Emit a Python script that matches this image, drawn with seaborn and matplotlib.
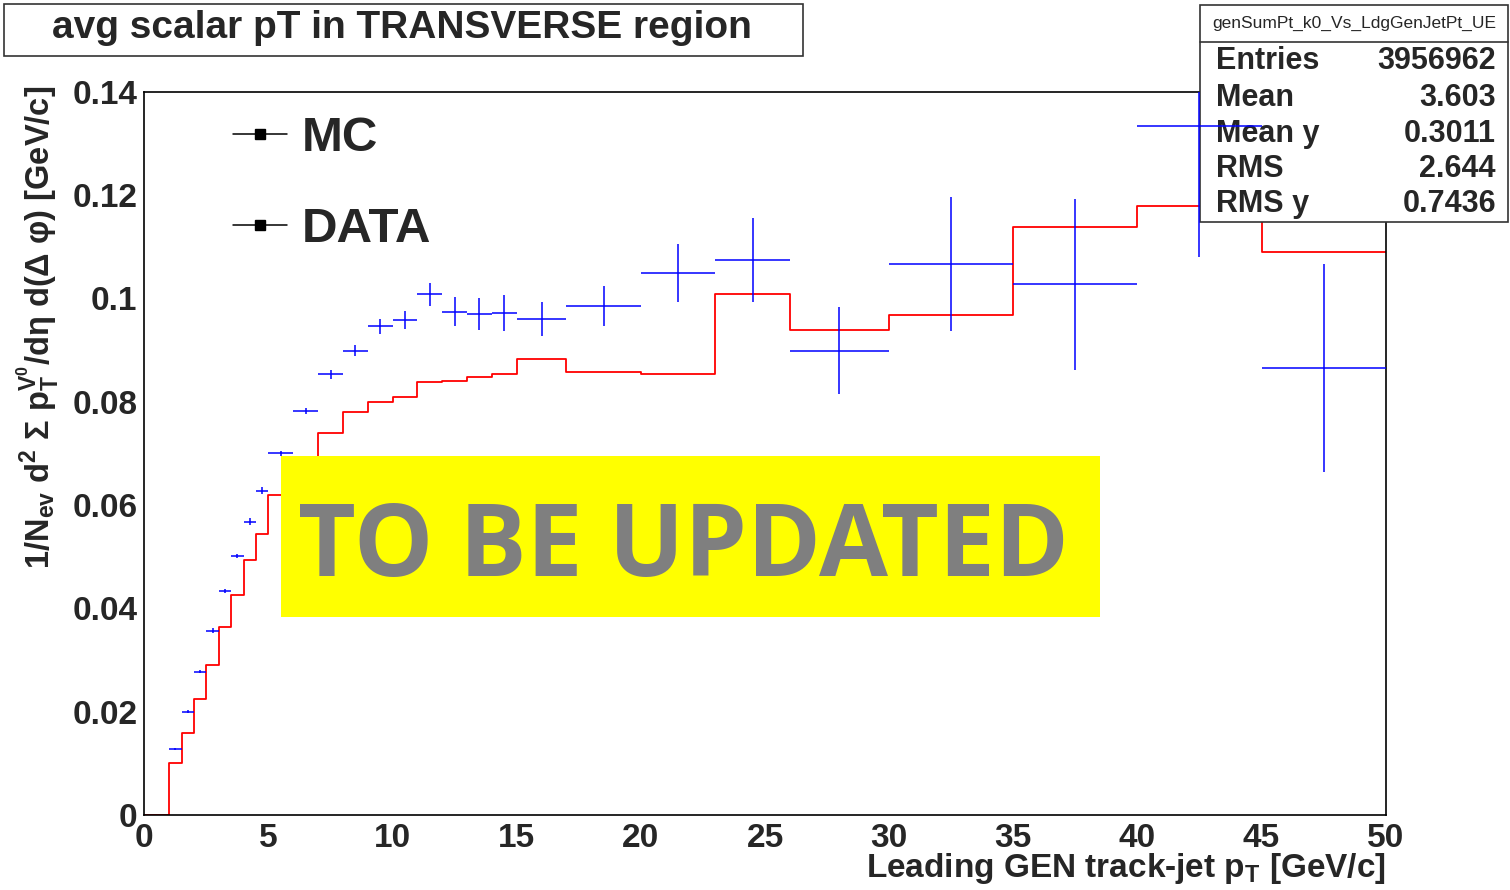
import numpy as np
import matplotlib
matplotlib.use("Agg")
import matplotlib.pyplot as plt
from matplotlib.patches import Rectangle
from matplotlib.lines import Line2D
from matplotlib.ticker import MultipleLocator, FixedLocator, FixedFormatter
import seaborn as sns

# ---------------- data ----------------
mc_edges = [0, 1, 1.5, 2, 2.5, 3, 3.5, 4, 4.5, 5, 6, 7, 8, 9, 10, 11, 12, 13,
            14, 15, 17, 20, 23, 26, 30, 35, 40, 45, 50]
mc_values = [0.0, 0.0100, 0.0158, 0.0225, 0.0291, 0.0364, 0.0425, 0.0494, 0.0543,
             0.0620, 0.0680, 0.0740, 0.0780, 0.0799, 0.0810, 0.0838, 0.0840, 0.0848,
             0.0854, 0.0882, 0.0857, 0.0854, 0.1008, 0.0938, 0.0968, 0.1138, 0.1178,
             0.1089]
data_edges = mc_edges[1:]
data_values = [0.0128, 0.0200, 0.0277, 0.0357, 0.0433, 0.0502, 0.0568, 0.0628,
               0.0700, 0.0782, 0.0853, 0.0899, 0.0946, 0.0958, 0.1008, 0.0974,
               0.0969, 0.0972, 0.0960, 0.0985, 0.1049, 0.1074, 0.0899, 0.1066,
               0.1027, 0.1334, 0.0865]
data_errors = [0.0002, 0.0003, 0.0003, 0.0004, 0.0004, 0.0004, 0.0006, 0.0006,
               0.0005, 0.0006, 0.0009, 0.0011, 0.0015, 0.0018, 0.0022, 0.0028,
               0.0031, 0.0035, 0.0032, 0.0039, 0.0057, 0.0082, 0.0085, 0.0130,
               0.0165, 0.0253, 0.0202]

x_ticks = [0, 5, 10, 15, 20, 25, 30, 35, 40, 45, 50]
x_tick_labels = ["0", "5", "10", "15", "20", "25", "30", "35", "40", "45", "50"]
y_ticks = [0.0, 0.02, 0.04, 0.06, 0.08, 0.10, 0.12, 0.14]
y_tick_labels = ["0", "0.02", "0.04", "0.06", "0.08", "0.1", "0.12", "0.14"]

title_text = "avg scalar pT in TRANSVERSE region"
x_label = "Leading GEN track-jet p$_{T}$ [GeV/c]"
y_label = "1/N$_{ev}$ d$^{2}$ Σ p$_{T}^{V^{0}}$/dη d(Δ φ) [GeV/c]"
legend_labels = ["MC", "DATA"]
stats_name = "genSumPt_k0_Vs_LdgGenJetPt_UE"
stats_labels = ["Entries", "Mean", "Mean y", "RMS", "RMS y"]
stats_values = ["3956962", "3.603", "0.3011", "2.644", "0.7436"]
stamp_text = "TO BE UPDATED"

# ---------------- style ----------------
sns.set_style("white")
plt.rcParams["font.family"] = ["Liberation Sans", "DejaVu Sans"]
plt.rcParams["mathtext.fontset"] = "custom"
plt.rcParams["mathtext.rm"] = "Liberation Sans:bold"
plt.rcParams["mathtext.bf"] = "Liberation Sans:bold"
plt.rcParams["mathtext.it"] = "Liberation Sans:bold"
plt.rcParams["mathtext.sf"] = "Liberation Sans:bold"
plt.rcParams["mathtext.default"] = "bf"

W, H = 1510, 890
fig = plt.figure(figsize=(W / 100, H / 100), dpi=100)
fig.patch.set_facecolor("white")

def fx(px):
    return px / W

def fy(py):
    return 1 - py / H

rect = [fx(144.3), fy(815), fx(1385.7) - fx(144.3), fy(91.7) - fy(815)]
ax = fig.add_axes(rect)
ax.set_zorder(0)

# MC histogram (red step)
edges_arr = np.array(mc_edges, dtype=float)
mc_centers = 0.5 * (edges_arr[:-1] + edges_arr[1:])
sns.histplot(x=mc_centers, weights=mc_values, bins=mc_edges, element="step",
             fill=False, color="#ff0000", linewidth=1.3, ax=ax)

ax.set_xlim(0, 50)
ax.set_ylim(0, 0.14)
ax.set_facecolor("white")
for s in ax.spines.values():
    s.set_color("black")
    s.set_linewidth(1.2)

ax.xaxis.set_major_locator(FixedLocator(x_ticks))
ax.xaxis.set_major_formatter(FixedFormatter(x_tick_labels))
ax.yaxis.set_major_locator(FixedLocator(y_ticks))
ax.yaxis.set_major_formatter(FixedFormatter(y_tick_labels))
ax.xaxis.set_minor_locator(MultipleLocator(1))
ax.yaxis.set_minor_locator(MultipleLocator(0.005))

ax.tick_params(axis="both", which="both", direction="in", top=False, right=False,
               color="black", width=1.1)
ax.tick_params(axis="y", which="major", length=27, pad=5)
ax.tick_params(axis="y", which="minor", length=13.5)
ax.tick_params(axis="x", which="major", length=15.5, pad=5.5)
ax.tick_params(axis="x", which="minor", length=8.5)
for lab in ax.get_xticklabels() + ax.get_yticklabels():
    lab.set_fontsize(24)
    lab.set_fontweight("bold")

ax.set_xlabel(x_label, fontsize=24, fontweight="bold", loc="right")
ax.xaxis.set_label_coords(1.0, -0.05)
ax.set_ylabel(y_label, fontsize=23.5, fontweight="bold", loc="top")
ax.yaxis.set_label_coords(-0.066, 1.008)

# legend (black markers, as in the reference)
handles = [Line2D([], [], color="black", marker="s", markersize=7, linewidth=1.1)
           for _ in legend_labels]
ax.legend(handles, legend_labels, loc="upper left", bbox_to_anchor=(0.0715, 0.966),
          frameon=False, prop={"family": "Liberation Sans", "weight": "bold", "size": 35.5},
          handlelength=1.1, handletextpad=0.29, labelspacing=0.93,
          borderpad=0, borderaxespad=0)

# data points drawn on an overlay axes (on top of the stats box)
ax2 = fig.add_axes(rect, sharex=ax, sharey=ax)
ax2.set_zorder(2)
ax2.set_axis_off()
d_edges = np.array(data_edges, dtype=float)
d_centers = 0.5 * (d_edges[:-1] + d_edges[1:])
d_half = 0.5 * (d_edges[1:] - d_edges[:-1])
ax2.errorbar(d_centers, data_values, xerr=d_half, yerr=data_errors, fmt="none",
             ecolor="#0000ff", elinewidth=1.1, capsize=0)
ax2.set_xlim(0, 50)
ax2.set_ylim(0, 0.14)

# title box
fig.add_artist(Rectangle((fx(4), fy(56)), fx(803) - fx(4), fy(4) - fy(56),
                         transform=fig.transFigure, facecolor="white",
                         edgecolor="#333333", linewidth=1.2, zorder=5))
fig.text(fx(402), fy(38.5), title_text, ha="center", va="baseline",
         fontsize=28, fontweight="bold", zorder=6)

# stats box
fig.add_artist(Rectangle((fx(1200), fy(222)), fx(1508) - fx(1200), fy(5) - fy(222),
                         transform=fig.transFigure, facecolor="white",
                         edgecolor="#333333", linewidth=1.2, zorder=1))
fig.add_artist(Line2D([fx(1200), fx(1508)], [fy(41.7), fy(41.7)],
                      transform=fig.transFigure, color="#333333", linewidth=1.2,
                      zorder=1.2))
fig.text(fx(1354), fy(28), stats_name, ha="center", va="baseline",
         fontsize=12.5, zorder=1.5)
row_baselines = [69.3, 106, 141.7, 177.3, 211.7]
for lab, val, yb in zip(stats_labels, stats_values, row_baselines):
    fig.text(fx(1216), fy(yb), lab, ha="left", va="baseline", fontsize=22,
             fontweight="bold", zorder=1.5)
    fig.text(fx(1496), fy(yb), val, ha="right", va="baseline", fontsize=22,
             fontweight="bold", zorder=1.5)

# "TO BE UPDATED" stamp
fig.add_artist(Rectangle((fx(281), fy(617)), fx(1100) - fx(281), fy(456) - fy(617),
                         transform=fig.transFigure, facecolor="#ffff00",
                         edgecolor="none", zorder=10))
fig.text(fx(683), fy(576), stamp_text, ha="center", va="baseline",
         fontsize=72, fontweight="bold", family=["Open Sans", "DejaVu Sans"],
         color="#7f7f7f", zorder=11)

fig.savefig("out.png", dpi=100, facecolor="white")
